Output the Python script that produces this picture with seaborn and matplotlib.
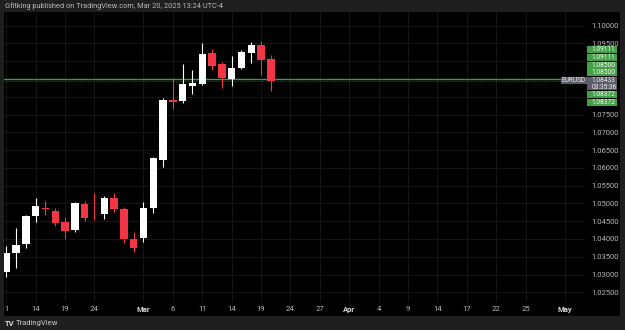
import matplotlib
matplotlib.use("Agg")
import matplotlib.pyplot as plt
from matplotlib.patches import Rectangle
import seaborn as sns
import pandas as pd
import numpy as np

# Daily EUR/USD candles, Feb 11 - Mar 20 2025
dates = pd.bdate_range("2025-02-11", "2025-03-20")
opens = [1.0308, 1.0361, 1.0385, 1.0464, 1.0486, 1.0480, 1.0447, 1.0424, 1.0498, 1.0471,
         1.0469, 1.0516, 1.0484, 1.0399, 1.0404, 1.0486, 1.0623, 1.0791, 1.0787, 1.0831,
         1.0835, 1.0922, 1.0891, 1.0851, 1.0881, 1.0922, 1.0946, 1.0905]
highs = [1.0381, 1.0430, 1.0468, 1.0514, 1.0507, 1.0486, 1.0461, 1.0504, 1.0506, 1.0528,
         1.0522, 1.0528, 1.0491, 1.0419, 1.0503, 1.0630, 1.0797, 1.0854, 1.0891, 1.0875,
         1.0950, 1.0934, 1.0898, 1.0915, 1.0932, 1.0955, 1.0956, 1.0918]
lows = [1.0294, 1.0318, 1.0374, 1.0449, 1.0467, 1.0437, 1.0401, 1.0419, 1.0450, 1.0453,
        1.0456, 1.0475, 1.0388, 1.0363, 1.0391, 1.0473, 1.0603, 1.0766, 1.0783, 1.0808,
        1.0834, 1.0875, 1.0824, 1.0831, 1.0879, 1.0894, 1.0861, 1.0816]
closes = [1.0361, 1.0383, 1.0466, 1.0492, 1.0483, 1.0446, 1.0422, 1.0502, 1.0460, 1.0469,
          1.0514, 1.0484, 1.0399, 1.0376, 1.0488, 1.0628, 1.0792, 1.0785, 1.0835, 1.0838,
          1.0920, 1.0887, 1.0852, 1.0880, 1.0925, 1.0945, 1.0903, 1.08433]

# Time axis (future trading days continue to the right)
axis_dates = pd.bdate_range("2025-02-11", "2025-05-09")
tick_dates = ["2025-02-11", "2025-02-14", "2025-02-19", "2025-02-24", "2025-03-03", "2025-03-06",
              "2025-03-11", "2025-03-14", "2025-03-19", "2025-03-24", "2025-03-27", "2025-04-01",
              "2025-04-04", "2025-04-09", "2025-04-14", "2025-04-17", "2025-04-22", "2025-04-25",
              "2025-05-01"]
tick_labels = ["1", "14", "19", "24", "Mar", "6", "11", "14", "19", "24", "27", "Apr",
               "4", "9", "14", "17", "22", "25", "May"]
price_ticks = [1.025, 1.030, 1.035, 1.040, 1.045, 1.050, 1.055, 1.060, 1.065, 1.070,
               1.075, 1.080, 1.085, 1.090, 1.095, 1.100]
hidden_ticks = [1.080, 1.085, 1.090]  # covered by the price-scale labels

level_price = 1.0850
last_price = 1.08433
countdown = "03:35:36"
# price-scale labels (two per level, stacked by the price scale)
label_prices_above = [1.09111, 1.09111, 1.08500, 1.08500]
label_prices_below = [1.08372, 1.08372]

df = pd.DataFrame({"date": dates, "open": opens, "high": highs, "low": lows, "close": closes})
pos = {d: i for i, d in enumerate(axis_dates)}
df["x"] = df["date"].map(pos)
df["up"] = df["close"] >= df["open"]

sns.set_theme(style="dark", rc={"axes.facecolor": "black", "figure.facecolor": "#1f1f1f"})
plt.rcParams["font.family"] = ["Roboto", "DejaVu Sans"]

W, H = 625, 330
fig = plt.figure(figsize=(W / 100, H / 100), dpi=100)
fig.patches.append(Rectangle((4 / W, 1 - 316 / H), 616 / W, 304 / H, transform=fig.transFigure,
                             facecolor="black", edgecolor="none", zorder=-5))
ax = fig.add_axes([4 / W, 1 - 302 / H, 581 / W, 290 / H])
ax.set_zorder(2)
ax.set_facecolor("black")

UP, DOWN = "#ffffff", "#f23645"
GREEN, GRAY = "#43a047", "#5b5e68"
colors = np.where(df["up"], UP, DOWN)

# Wicks and bodies
ax.vlines(df["x"], df["low"], df["high"], colors=colors, linewidth=0.8, zorder=3)
body_lo = df[["open", "close"]].min(axis=1)
body_h = (df["close"] - df["open"]).abs().clip(lower=0.00025)
ax.bar(df["x"], body_h, bottom=body_lo, width=0.75, color=colors, linewidth=0, zorder=4)

# Horizontal level and last price line
ax.axhline(level_price, color="#3f9a43", linewidth=1.0, zorder=2)
ax.axhline(last_price, color="#555555", linewidth=0.5, linestyle=(0, (2, 2)), zorder=1)

# Axes
ax.set_xlim(-0.23, 59.05)
ax.set_ylim(1.02228, 1.10383)
tick_x = [pos[pd.Timestamp(d)] for d in tick_dates]
ax.set_xticks(tick_x, labels=tick_labels)
ax.set_yticks(price_ticks, labels=["" if any(abs(p - h) < 1e-9 for h in hidden_ticks)
                                   else f"{p:.5f}" for p in price_ticks])
ax.yaxis.tick_right()
ax.tick_params(axis="x", length=0, pad=3, labelsize=5.5, labelcolor="#b8b8b8")
ax.tick_params(axis="y", length=0, pad=4.8, labelsize=5.5, labelcolor="#b8b8b8")
for lbl in ax.get_xticklabels():
    if lbl.get_text() in ("Mar", "Apr", "May"):
        lbl.set_fontweight("bold")
        lbl.set_color("#d6d6d6")
ax.grid(True, color="#1a1a1a", linewidth=0.6)
ax.set_axisbelow(True)
for s in ax.spines.values():
    s.set_visible(False)


# Price-scale labels: fixed-height boxes stacked around the last price box
def py(price):
    """pixel row (from top) of a price"""
    return H - ax.transData.transform((0, price))[1]


box_x0, box_x1, box_h, gap = 587, 617, 7.0, 0.9


def draw_box(top, height, text, fc, tc="white"):
    fig.patches.append(Rectangle((box_x0 / W, 1 - (top + height) / H), (box_x1 - box_x0) / W,
                                 height / H, transform=fig.transFigure, facecolor=fc,
                                 edgecolor="none", zorder=10))
    fig.text((box_x0 + 4.5) / W, 1 - (top + height / 2) / H, text, fontsize=4.7, color=tc,
             ha="left", va="center", linespacing=1.05, zorder=11)


last_top = py(last_price) - 4.0
last_h = 12.7
draw_box(last_top, last_h, f"{last_price:.5f}\n{countdown}", GRAY, "#eeeeee")
# EURUSD tag left of the last price box
fig.patches.append(Rectangle((561 / W, 1 - (last_top + 6.7) / H), (box_x0 - 561) / W, 6.7 / H,
                             transform=fig.transFigure, facecolor=GRAY, edgecolor="none", zorder=10))
fig.text(574 / W, 1 - (last_top + 3.35) / H, "EURUSD", fontsize=4.7, color="#eeeeee",
         ha="center", va="center", zorder=11)

# stack upward: nearest price first
limit = last_top - gap
for p in sorted(label_prices_above):
    top = min(py(p) - box_h / 2, limit - box_h)
    draw_box(top, box_h, f"{p:.5f}", GREEN)
    limit = top - gap
# stack downward
limit = last_top + last_h + gap
for p in sorted(label_prices_below, reverse=True):
    top = max(py(p) - box_h / 2, limit)
    draw_box(top, box_h, f"{p:.5f}", GREEN)
    limit = top + box_h + gap

# Header and footer
fig.text(5 / W, 1 - 6 / H, "Gfitking published on TradingView.com, Mar 20, 2025 13:24 UTC-4",
         fontsize=5.3, color="#b8b8b8", ha="left", va="center")
fig.text(5 / W, 1 - 323 / H, "TV", fontsize=5.5, fontweight="bold", color="#d6d6d6",
         ha="left", va="center")
fig.text(16 / W, 1 - 323 / H, "TradingView", fontsize=5.5, color="#c8c8c8",
         ha="left", va="center")

fig.savefig("out.png", dpi=100, facecolor=fig.get_facecolor())
